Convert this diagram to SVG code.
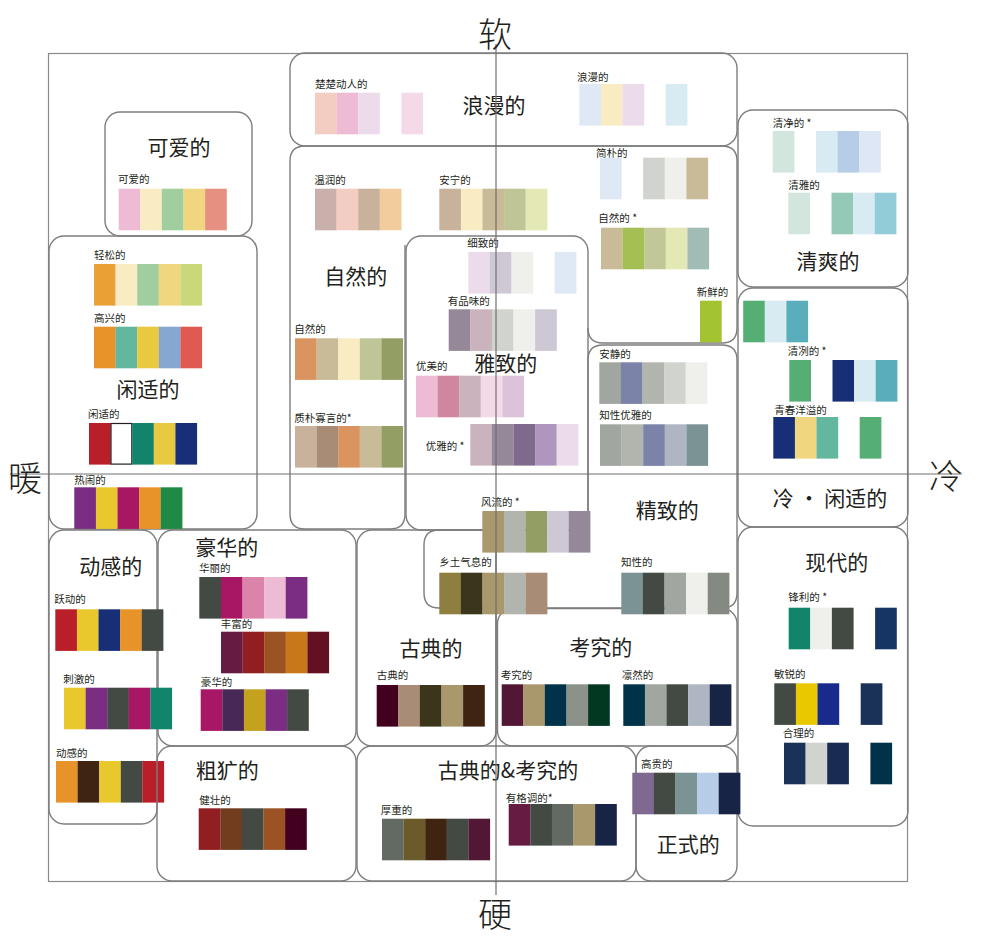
<svg xmlns="http://www.w3.org/2000/svg" width="991" height="946" viewBox="0 0 991 946">
<style>
.box{fill:none;stroke:#7d7d7d;stroke-width:1.4}
.frame{fill:none;stroke:#8a8a8a;stroke-width:1.2}
.axis{stroke:#707070;stroke-width:1.2}
.t{font-family:"Noto Sans CJK SC","Noto Sans",sans-serif;font-size:21px;fill:#231F20;text-anchor:middle;dominant-baseline:central}
.l{font-family:"Noto Sans CJK SC","Noto Sans",sans-serif;font-size:10.5px;fill:#231F20}
.ax{font-family:"Noto Sans CJK SC","Noto Sans",sans-serif;font-size:34px;fill:#231F20;text-anchor:middle;dominant-baseline:central;font-weight:300}
</style>
<rect width="991" height="946" fill="#fff"/>
<rect class="frame" x="48.5" y="53.5" width="859" height="828"/>

<g id="node-langman">
<rect class="box" x="290" y="53" width="447" height="93" rx="15"/>
<text class="t" x="494" y="103.5">浪漫的</text>
<text class="l" x="315" y="88">楚楚动人的</text>
<g transform="translate(315,92.7)"><rect x="0" width="21.7" height="41.6" fill="#F3CCC2"/><rect x="21.6" width="21.7" height="41.6" fill="#EDBBD4"/><rect x="43.2" width="21.7" height="41.6" fill="#ECDCEB"/><rect x="86.4" width="21.7" height="41.6" fill="#F4DAE8"/></g>
<text class="l" x="577" y="81">浪漫的</text>
<g transform="translate(579.3,84)"><rect x="0" width="21.7" height="41.6" fill="#DFE8F5"/><rect x="21.6" width="21.7" height="41.6" fill="#F9EBC2"/><rect x="43.2" width="21.7" height="41.6" fill="#ECDCEB"/><rect x="86.4" width="21.7" height="41.6" fill="#D8EBF2"/></g>
</g>

<g id="node-keai">
<rect class="box" x="105" y="112" width="147" height="124" rx="15"/>
<text class="t" x="179" y="145.5">可爱的</text>
<text class="l" x="118" y="183">可爱的</text>
<g transform="translate(118.7,188.7)"><rect x="0" width="21.7" height="41.6" fill="#EDBBD4"/><rect x="21.6" width="21.7" height="41.6" fill="#F9EBC2"/><rect x="43.2" width="21.7" height="41.6" fill="#A0CE9F"/><rect x="64.8" width="21.7" height="41.6" fill="#F0D77F"/><rect x="86.4" width="21.7" height="41.6" fill="#E69082"/></g>
</g>

<g id="node-xianshi">
<rect class="box" x="49" y="236" width="208" height="293" rx="15"/>
<text class="t" x="148" y="387.5">闲适的</text>
<text class="l" x="94" y="259">轻松的</text>
<g transform="translate(94,264)"><rect x="0" width="21.7" height="41.6" fill="#EAA035"/><rect x="21.6" width="21.7" height="41.6" fill="#F9EBC2"/><rect x="43.2" width="21.7" height="41.6" fill="#A0CE9F"/><rect x="64.8" width="21.7" height="41.6" fill="#F0D77F"/><rect x="86.4" width="21.7" height="41.6" fill="#CAD87A"/></g>
<text class="l" x="94" y="322">高兴的</text>
<g transform="translate(94,326.7)"><rect x="0" width="21.7" height="41.6" fill="#E8922A"/><rect x="21.6" width="21.7" height="41.6" fill="#63B79E"/><rect x="43.2" width="21.7" height="41.6" fill="#E9C940"/><rect x="64.8" width="21.7" height="41.6" fill="#86A7CF"/><rect x="86.4" width="21.7" height="41.6" fill="#DF5A50"/></g>
<text class="l" x="88" y="418">闲适的</text>
<g transform="translate(89,423)"><rect x="0" width="21.7" height="41.6" fill="#BA1F29"/><rect x="22" y="0.5" width="20.8" height="40.6" fill="#FFFFFF" stroke="#231F20" stroke-width="1.2"/><rect x="43.2" width="21.7" height="41.6" fill="#13846C"/><rect x="64.8" width="21.7" height="41.6" fill="#E9C940"/><rect x="86.4" width="21.7" height="41.6" fill="#182F77"/></g>
<text class="l" x="74.3" y="484">热闹的</text>
<g transform="translate(74.3,487.3)"><rect x="0" width="21.7" height="41.6" fill="#7A2D82"/><rect x="21.6" width="21.7" height="41.6" fill="#E9C82E"/><rect x="43.2" width="21.7" height="41.6" fill="#A81763"/><rect x="64.8" width="21.7" height="41.6" fill="#E8922A"/><rect x="86.4" width="21.7" height="41.6" fill="#1E8A46"/></g>
</g>

<g id="node-qingshuang">
<rect class="box" x="738" y="110" width="170" height="177" rx="15"/>
<text class="t" x="828" y="259.5">清爽的</text>
<text class="l" x="772.7" y="127">清净的 *</text>
<g transform="translate(772.7,131)"><rect x="0" width="21.7" height="41.6" fill="#D2E6DE"/><rect x="43.2" width="21.7" height="41.6" fill="#D8EBF2"/><rect x="64.8" width="21.7" height="41.6" fill="#B7CCE7"/><rect x="86.4" width="21.7" height="41.6" fill="#DEE7F5"/></g>
<text class="l" x="788.3" y="189">清雅的</text>
<g transform="translate(788.3,192.7)"><rect x="0" width="21.7" height="41.6" fill="#D2E6DE"/><rect x="43.2" width="21.7" height="41.6" fill="#93C9B6"/><rect x="64.8" width="21.7" height="41.6" fill="#D8EBF2"/><rect x="86.4" width="21.7" height="41.6" fill="#91CCD8"/></g>
</g>

<g id="node-leng-xianshi">
<rect class="box" x="738" y="288" width="170" height="239" rx="15"/>
<text class="t" x="830" y="496.5">冷 · 闲适的</text>
<text class="l" x="787.7" y="355">清冽的 *</text>
<g transform="translate(789.3,360)"><rect x="0" width="21.7" height="41.6" fill="#55AF74"/><rect x="43.2" width="21.7" height="41.6" fill="#182F77"/><rect x="64.8" width="21.7" height="41.6" fill="#D8EBF2"/><rect x="86.4" width="21.7" height="41.6" fill="#5AADBA"/></g>
<text class="l" x="774.3" y="414">青春洋溢的</text>
<g transform="translate(773.3,417)"><rect x="0" width="21.7" height="41.6" fill="#182F77"/><rect x="21.6" width="21.7" height="41.6" fill="#F0D77F"/><rect x="43.2" width="21.7" height="41.6" fill="#63B79E"/><rect x="86.4" width="21.7" height="41.6" fill="#55AF74"/></g>
</g>

<g id="node-ziran">
<path class="box" d="M405,245 V514 Q405,529 390,529 H305 Q290,529 290,514 V161 Q290,146 305,146 H722 Q737,146 737,161 V328 Q737,343 722,343 H603 Q588,343 588,328"/>
<text class="t" x="355.7" y="274.5">自然的</text>
<text class="l" x="314.3" y="184">温润的</text>
<g transform="translate(315,188.7)"><rect x="0" width="21.7" height="41.6" fill="#CAB0AB"/><rect x="21.6" width="21.7" height="41.6" fill="#F3CCC2"/><rect x="43.2" width="21.7" height="41.6" fill="#C9B29C"/><rect x="64.8" width="21.7" height="41.6" fill="#F3CC9E"/></g>
<text class="l" x="439.3" y="184">安宁的</text>
<g transform="translate(439.3,188.7)"><rect x="0" width="21.7" height="41.6" fill="#C9B29C"/><rect x="21.6" width="21.7" height="41.6" fill="#F9EBC2"/><rect x="43.2" width="21.7" height="41.6" fill="#C9BA98"/><rect x="64.8" width="21.7" height="41.6" fill="#BFC597"/><rect x="86.4" width="21.7" height="41.6" fill="#E3E8B5"/></g>
<text class="l" x="596" y="157">简朴的</text>
<g transform="translate(600,157.7)"><rect x="0" width="21.7" height="41.6" fill="#DFE8F5"/><rect x="43.2" width="21.7" height="41.6" fill="#D1D3CE"/><rect x="64.8" width="21.7" height="41.6" fill="#EFEFEB"/><rect x="86.4" width="21.7" height="41.6" fill="#C9BA98"/></g>
<text class="l" x="598.3" y="222">自然的 *</text>
<g transform="translate(601,227.7)"><rect x="0" width="21.7" height="41.6" fill="#C9BA98"/><rect x="21.6" width="21.7" height="41.6" fill="#A4BF53"/><rect x="43.2" width="21.7" height="41.6" fill="#C1C799"/><rect x="64.8" width="21.7" height="41.6" fill="#E3E8B5"/><rect x="86.4" width="21.7" height="41.6" fill="#A0BCB5"/></g>
<text class="l" x="294.3" y="333">自然的</text>
<g transform="translate(295,338.3)"><rect x="0" width="21.7" height="41.6" fill="#D99460"/><rect x="21.6" width="21.7" height="41.6" fill="#C9BA98"/><rect x="43.2" width="21.7" height="41.6" fill="#F9EBC2"/><rect x="64.8" width="21.7" height="41.6" fill="#BFC597"/><rect x="86.4" width="21.7" height="41.6" fill="#929E63"/></g>
<text class="l" x="294.3" y="421.7">质朴寡言的*</text>
<g transform="translate(295,426)"><rect x="0" width="21.7" height="41.6" fill="#C9B29C"/><rect x="21.6" width="21.7" height="41.6" fill="#A98C75"/><rect x="43.2" width="21.7" height="41.6" fill="#D99460"/><rect x="64.8" width="21.7" height="41.6" fill="#C9BA98"/><rect x="86.4" width="21.7" height="41.6" fill="#929E63"/></g>
<text class="l" x="696.7" y="296">新鲜的</text>
<g transform="translate(700,300.7)"><rect x="0" width="21.7" height="41.6" fill="#A3C331"/><rect x="43.2" width="21.7" height="41.6" fill="#55AF74"/><rect x="64.8" width="21.7" height="41.6" fill="#D8EBF2"/><rect x="86.4" width="21.7" height="41.6" fill="#5AADBA"/></g>
</g>

<g id="node-yazhi">
<rect class="box" x="406" y="236" width="182" height="294" rx="15"/>
<text class="t" x="505.7" y="361.5">雅致的</text>
<text class="l" x="467.3" y="247.3">细致的</text>
<g transform="translate(468.3,252)"><rect x="0" width="21.7" height="41.6" fill="#ECDCEB"/><rect x="21.6" width="21.7" height="41.6" fill="#CEC8D5"/><rect x="43.2" width="21.7" height="41.6" fill="#EFEFEB"/><rect x="86.4" width="21.7" height="41.6" fill="#DFE8F5"/></g>
<text class="l" x="447.7" y="305">有品味的</text>
<g transform="translate(448.7,309.3)"><rect x="0" width="21.7" height="41.6" fill="#958899"/><rect x="21.6" width="21.7" height="41.6" fill="#CAB3BC"/><rect x="43.2" width="21.7" height="41.6" fill="#D1D3CE"/><rect x="64.8" width="21.7" height="41.6" fill="#EFEFEB"/><rect x="86.4" width="21.7" height="41.6" fill="#CEC8D5"/></g>
<text class="l" x="416" y="370">优美的</text>
<g transform="translate(416,375.7)"><rect x="0" width="21.7" height="41.6" fill="#EDBBD4"/><rect x="21.6" width="21.7" height="41.6" fill="#CF879F"/><rect x="43.2" width="21.7" height="41.6" fill="#CAB3BC"/><rect x="64.8" width="21.7" height="41.6" fill="#F4DAE8"/><rect x="86.4" width="21.7" height="41.6" fill="#DCC2DA"/></g>
<text class="l" x="425.7" y="450">优雅的 *</text>
<g transform="translate(470.3,424)"><rect x="0" width="21.7" height="41.6" fill="#CAB3BC"/><rect x="21.6" width="21.7" height="41.6" fill="#958899"/><rect x="43.2" width="21.7" height="41.6" fill="#7F6A8E"/><rect x="64.8" width="21.7" height="41.6" fill="#B096BF"/><rect x="86.4" width="21.7" height="41.6" fill="#ECDCEB"/></g>
</g>

<g id="node-haohua">
<rect class="box" x="158" y="530" width="198" height="216" rx="15"/>
<text class="t" x="226.7" y="545.5">豪华的</text>
<text class="l" x="199" y="572.3">华丽的</text>
<g transform="translate(199.3,577)"><rect x="0" width="21.7" height="41.6" fill="#434A44"/><rect x="21.6" width="21.7" height="41.6" fill="#A81763"/><rect x="43.2" width="21.7" height="41.6" fill="#DB84AA"/><rect x="64.8" width="21.7" height="41.6" fill="#EDBBD4"/><rect x="86.4" width="21.7" height="41.6" fill="#7A2D82"/></g>
<text class="l" x="220.7" y="628.3">丰富的</text>
<g transform="translate(221,631.7)"><rect x="0" width="21.7" height="41.6" fill="#661C42"/><rect x="21.6" width="21.7" height="41.6" fill="#911F22"/><rect x="43.2" width="21.7" height="41.6" fill="#9B5324"/><rect x="64.8" width="21.7" height="41.6" fill="#C97819"/><rect x="86.4" width="21.7" height="41.6" fill="#631122"/></g>
<text class="l" x="200.7" y="685.7">豪华的</text>
<g transform="translate(200.7,689.3)"><rect x="0" width="21.7" height="41.6" fill="#A81763"/><rect x="21.6" width="21.7" height="41.6" fill="#482856"/><rect x="43.2" width="21.7" height="41.6" fill="#C4A21D"/><rect x="64.8" width="21.7" height="41.6" fill="#7A2D82"/><rect x="86.4" width="21.7" height="41.6" fill="#434A44"/></g>
</g>

<g id="node-donggan">
<rect class="box" x="49" y="530" width="108" height="294" rx="15"/>
<text class="t" x="110.7" y="564.5">动感的</text>
<text class="l" x="54.3" y="603.3">跃动的</text>
<g transform="translate(55.3,609.3)"><rect x="0" width="21.7" height="41.6" fill="#BA1F29"/><rect x="21.6" width="21.7" height="41.6" fill="#E9C82E"/><rect x="43.2" width="21.7" height="41.6" fill="#182F77"/><rect x="64.8" width="21.7" height="41.6" fill="#E8922A"/><rect x="86.4" width="21.7" height="41.6" fill="#434A44"/></g>
<text class="l" x="63.3" y="683.3">刺激的</text>
<g transform="translate(64,687.7)"><rect x="0" width="21.7" height="41.6" fill="#E9C82E"/><rect x="21.6" width="21.7" height="41.6" fill="#7A2D82"/><rect x="43.2" width="21.7" height="41.6" fill="#434A44"/><rect x="64.8" width="21.7" height="41.6" fill="#A81763"/><rect x="86.4" width="21.7" height="41.6" fill="#13846C"/></g>
<text class="l" x="56" y="756.7">动感的</text>
<g transform="translate(56,761)"><rect x="0" width="21.7" height="41.6" fill="#E8922A"/><rect x="21.6" width="21.7" height="41.6" fill="#3F2412"/><rect x="43.2" width="21.7" height="41.6" fill="#E9C82E"/><rect x="64.8" width="21.7" height="41.6" fill="#434A44"/><rect x="86.4" width="21.7" height="41.6" fill="#BA1F29"/></g>
</g>

<g id="node-gudian">
<rect class="box" x="357" y="530" width="139" height="216" rx="15"/>
<text class="t" x="431" y="646.5">古典的</text>
<text class="l" x="376.7" y="679.3">古典的</text>
<g transform="translate(376.7,685)"><rect x="0" width="21.7" height="41.6" fill="#42001E"/><rect x="21.6" width="21.7" height="41.6" fill="#A98C75"/><rect x="43.2" width="21.7" height="41.6" fill="#3B351B"/><rect x="64.8" width="21.7" height="41.6" fill="#A8986C"/><rect x="86.4" width="21.7" height="41.6" fill="#3F2412"/></g>
</g>

<g id="node-kaojiu">
<rect class="box" x="497.5" y="608.5" width="239.5" height="137.5" rx="15"/>
<text class="t" x="600.7" y="645.5">考究的</text>
<text class="l" x="500.7" y="679.3">考究的</text>
<g transform="translate(501.7,684.3)"><rect x="0" width="21.7" height="41.6" fill="#531736"/><rect x="21.6" width="21.7" height="41.6" fill="#A8986C"/><rect x="43.2" width="21.7" height="41.6" fill="#00324A"/><rect x="64.8" width="21.7" height="41.6" fill="#8C918A"/><rect x="86.4" width="21.7" height="41.6" fill="#023722"/></g>
<text class="l" x="621.7" y="679.3">凛然的</text>
<g transform="translate(623.3,684.3)"><rect x="0" width="21.7" height="41.6" fill="#00324A"/><rect x="21.6" width="21.7" height="41.6" fill="#A1A6A0"/><rect x="43.2" width="21.7" height="41.6" fill="#434A44"/><rect x="64.8" width="21.7" height="41.6" fill="#AFB6C3"/><rect x="86.4" width="21.7" height="41.6" fill="#172446"/></g>
</g>

<g id="node-jingzhi">
<path class="box" d="M603,345 H722 Q737,345 737,360 V593 Q737,608 722,608 H439 Q424,608 424,593 V545 Q424,530 439,530 H588 V360 Q588,345 603,345 Z"/>
<text class="t" x="667.3" y="508.5">精致的</text>
<text class="l" x="599.3" y="358">安静的</text>
<g transform="translate(599.3,362.3)"><rect x="0" width="21.7" height="41.6" fill="#A1A6A0"/><rect x="21.6" width="21.7" height="41.6" fill="#7B83A8"/><rect x="43.2" width="21.7" height="41.6" fill="#B2B4AE"/><rect x="64.8" width="21.7" height="41.6" fill="#D1D3CE"/><rect x="86.4" width="21.7" height="41.6" fill="#EFEFEB"/></g>
<text class="l" x="599.3" y="419.3">知性优雅的</text>
<g transform="translate(600,424.3)"><rect x="0" width="21.7" height="41.6" fill="#A1A6A0"/><rect x="21.6" width="21.7" height="41.6" fill="#B2B4AE"/><rect x="43.2" width="21.7" height="41.6" fill="#7B83A8"/><rect x="64.8" width="21.7" height="41.6" fill="#AFB6C3"/><rect x="86.4" width="21.7" height="41.6" fill="#7C9395"/></g>
<text class="l" x="481" y="506">风流的 *</text>
<g transform="translate(482.3,511)"><rect x="0" width="21.7" height="41.6" fill="#A8986C"/><rect x="21.6" width="21.7" height="41.6" fill="#B2B4AE"/><rect x="43.2" width="21.7" height="41.6" fill="#929E63"/><rect x="64.8" width="21.7" height="41.6" fill="#CEC8D5"/><rect x="86.4" width="21.7" height="41.6" fill="#958899"/></g>
<text class="l" x="439.3" y="566">乡土气息的</text>
<g transform="translate(439.3,572.7)"><rect x="0" width="21.7" height="41.6" fill="#8E7E40"/><rect x="21.6" width="21.7" height="41.6" fill="#3B351B"/><rect x="43.2" width="21.7" height="41.6" fill="#A8986C"/><rect x="64.8" width="21.7" height="41.6" fill="#B2B4AE"/><rect x="86.4" width="21.7" height="41.6" fill="#A98C75"/></g>
<text class="l" x="621" y="566">知性的</text>
<g transform="translate(621.3,572.7)"><rect x="0" width="21.7" height="41.6" fill="#7C9395"/><rect x="21.6" width="21.7" height="41.6" fill="#434A44"/><rect x="43.2" width="21.7" height="41.6" fill="#A1A6A0"/><rect x="64.8" width="21.7" height="41.6" fill="#EFEFEB"/><rect x="86.4" width="21.7" height="41.6" fill="#848A82"/></g>
</g>

<g id="node-xiandai">
<rect class="box" x="738" y="527" width="170" height="299" rx="15"/>
<text class="t" x="836.7" y="560.5">现代的</text>
<text class="l" x="788.3" y="601">锋利的 *</text>
<g transform="translate(788.7,607.7)"><rect x="0" width="21.7" height="41.6" fill="#13846C"/><rect x="21.6" width="21.7" height="41.6" fill="#EFEFEB"/><rect x="43.2" width="21.7" height="41.6" fill="#434A44"/><rect x="86.4" width="21.7" height="41.6" fill="#163565"/></g>
<text class="l" x="774" y="678">敏锐的</text>
<g transform="translate(774.3,683.3)"><rect x="0" width="21.7" height="41.6" fill="#434A44"/><rect x="21.6" width="21.7" height="41.6" fill="#EAC800"/><rect x="43.2" width="21.7" height="41.6" fill="#182A8C"/><rect x="86.4" width="21.7" height="41.6" fill="#1A3158"/></g>
<text class="l" x="782.7" y="737.3">合理的</text>
<g transform="translate(784,742.7)"><rect x="0" width="21.7" height="41.6" fill="#1A3158"/><rect x="21.6" width="21.7" height="41.6" fill="#D1D3CE"/><rect x="43.2" width="21.7" height="41.6" fill="#1A2B52"/><rect x="86.4" width="21.7" height="41.6" fill="#00324A"/></g>
</g>

<g id="node-cukuang">
<rect class="box" x="157" y="746" width="199" height="135" rx="15"/>
<text class="t" x="227.3" y="768.5">粗犷的</text>
<text class="l" x="199.3" y="804.3">健壮的</text>
<g transform="translate(198.7,808.3)"><rect x="0" width="21.7" height="41.6" fill="#911F22"/><rect x="21.6" width="21.7" height="41.6" fill="#723D1F"/><rect x="43.2" width="21.7" height="41.6" fill="#434A44"/><rect x="64.8" width="21.7" height="41.6" fill="#9B5324"/><rect x="86.4" width="21.7" height="41.6" fill="#42001E"/></g>
</g>

<g id="node-gudian-kaojiu">
<rect class="box" x="357" y="746" width="279" height="135" rx="15"/>
<text class="t" x="508" y="768.5">古典的&amp;考究的</text>
<text class="l" x="380.7" y="814">厚重的</text>
<g transform="translate(382,818.7)"><rect x="0" width="21.7" height="41.6" fill="#636A63"/><rect x="21.6" width="21.7" height="41.6" fill="#6C5B2A"/><rect x="43.2" width="21.7" height="41.6" fill="#3F2412"/><rect x="64.8" width="21.7" height="41.6" fill="#434A44"/><rect x="86.4" width="21.7" height="41.6" fill="#531736"/></g>
<text class="l" x="505.7" y="801.7">有格调的*</text>
<g transform="translate(508.7,804)"><rect x="0" width="21.7" height="41.6" fill="#661C42"/><rect x="21.6" width="21.7" height="41.6" fill="#434A44"/><rect x="43.2" width="21.7" height="41.6" fill="#636A63"/><rect x="64.8" width="21.7" height="41.6" fill="#A8986C"/><rect x="86.4" width="21.7" height="41.6" fill="#172446"/></g>
</g>

<g id="node-zhengshi">
<rect class="box" x="636" y="746" width="101" height="135" rx="15"/>
<text class="t" x="688.3" y="842.5">正式的</text>
<text class="l" x="641" y="768.3">高贵的</text>
<g transform="translate(632.3,772.7)"><rect x="0" width="21.7" height="41.6" fill="#806990"/><rect x="21.6" width="21.7" height="41.6" fill="#434A44"/><rect x="43.2" width="21.7" height="41.6" fill="#7C9395"/><rect x="64.8" width="21.7" height="41.6" fill="#B7CCE7"/><rect x="86.4" width="21.7" height="41.6" fill="#172446"/></g>
</g>

<g id="axes">
<line class="axis" x1="496" y1="44" x2="496" y2="895"/>
<line class="axis" x1="10" y1="474" x2="962" y2="474"/>
<text class="ax" x="495" y="32">软</text>
<text class="ax" x="495" y="912">硬</text>
<text class="ax" x="25" y="476">暖</text>
<text class="ax" x="946" y="474">冷</text>
</g>
</svg>
